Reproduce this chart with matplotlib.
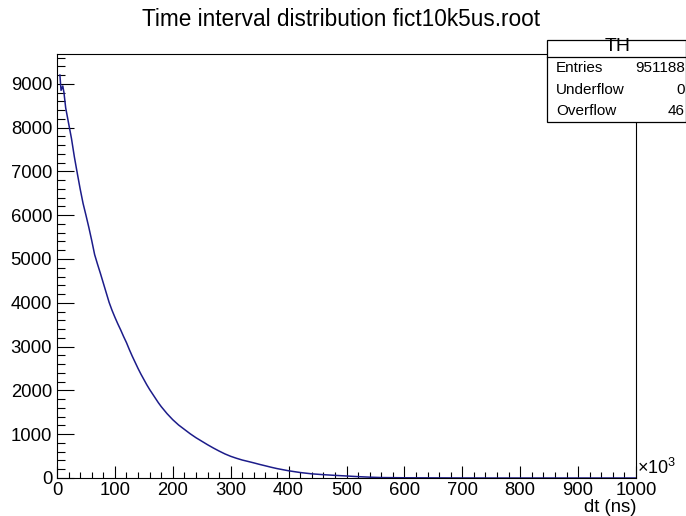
import matplotlib
matplotlib.use("Agg")
import matplotlib.pyplot as plt
from matplotlib.patches import Rectangle
from matplotlib.lines import Line2D
from matplotlib.ticker import MultipleLocator

plt.rcParams["font.family"] = ["Liberation Sans", "DejaVu Sans"]
plt.rcParams["mathtext.fontset"] = "custom"
plt.rcParams["mathtext.rm"] = "Liberation Sans"

# Time interval histogram (dt in units of 10^3 ns, counts per bin)
dt_us = [5, 7, 10, 12, 15, 20, 25, 30, 35, 40, 45, 50, 55, 60, 65, 70, 75, 80, 85, 90,
         95, 100, 105, 110, 115, 120, 125, 130, 135, 140, 145, 150, 155, 160, 165, 170,
         175, 180, 185, 190, 195, 200, 210, 220, 230, 240, 250, 260, 270, 280, 290, 300,
         310, 320, 330, 340, 350, 360, 370, 380, 390, 400, 420, 440, 460, 480, 500, 520,
         540, 560, 600, 650, 700, 750, 1000]
counts = [9200, 8850, 8950, 8800, 8450, 8100, 7750, 7330, 6960, 6600, 6270, 6000, 5720,
          5420, 5100, 4880, 4670, 4450, 4230, 4010, 3830, 3670, 3520, 3380, 3230, 3090,
          2930, 2780, 2640, 2500, 2370, 2250, 2130, 2020, 1920, 1820, 1720, 1630, 1550,
          1470, 1400, 1330, 1210, 1110, 1010, 920, 840, 760, 685, 615, 550, 495, 450, 410,
          378, 345, 310, 278, 245, 215, 190, 165, 125, 95, 76, 60, 46, 31, 19, 10, 5, 3, 1,
          0, 0]

title = "Time interval distribution fict10k5us.root"
stats_name = "TH"
stats_rows = [("Entries", "951188"), ("Underflow", "0"), ("Overflow", "46")]

W, H = 686, 516
fig = plt.figure(figsize=(W / 100, H / 100), dpi=100)


def fx(px):
    return px / W


def fy(py):
    return 1 - py / H


ax = fig.add_axes([fx(57), fy(478), fx(636) - fx(57), fy(54) - fy(478)])
ax.plot(dt_us, counts, color="#1c1c8a", linewidth=1.1)
ax.set_xlim(0, 1000)
ax.set_ylim(0, 9680)

ax.xaxis.set_major_locator(MultipleLocator(100))
ax.xaxis.set_minor_locator(MultipleLocator(20))
ax.yaxis.set_major_locator(MultipleLocator(1000))
ax.yaxis.set_minor_locator(MultipleLocator(200))
ax.tick_params(axis="x", which="major", direction="in", length=8.6, width=0.8, labelsize=13.3, pad=3)
ax.tick_params(axis="x", which="minor", direction="in", length=4.3, width=0.8)
ax.tick_params(axis="y", which="major", direction="in", length=12.2, width=0.8, labelsize=13.3, pad=3.5)
ax.tick_params(axis="y", which="minor", direction="in", length=5.8, width=0.8)
for sp in ax.spines.values():
    sp.set_linewidth(0.8)

ax.text(1.002, 0.0, r"$\mathregular{\times10^{3}}$", transform=ax.transAxes,
        ha="left", va="bottom", fontsize=13)
fig.text(fx(636), fy(507), "dt (ns)", ha="right", va="center", fontsize=13.3)
fig.text(fx(341), fy(20), title, ha="center", va="center", fontsize=16.3)

# stats box
box_l, box_r, box_t, box_b = 547, 685.5, 40, 122
fig.add_artist(Rectangle((fx(box_l), fy(box_b)), fx(box_r) - fx(box_l), fy(box_t) - fy(box_b),
                         transform=fig.transFigure, facecolor="white", edgecolor="black",
                         linewidth=0.9, zorder=5))
fig.add_artist(Line2D([fx(box_l), fx(box_r)], [fy(56.7), fy(56.7)], transform=fig.transFigure,
                      color="black", linewidth=0.9, zorder=6))
fig.text(fx(618), fy(47), stats_name, ha="center", va="center", fontsize=14, zorder=7)
for i, (name, val) in enumerate(stats_rows):
    y = 68.3 + i * 21.4
    fig.text(fx(556), fy(y), name, ha="left", va="center", fontsize=11, zorder=7)
    fig.text(fx(685), fy(y), val, ha="right", va="center", fontsize=11, zorder=7)

fig.savefig("out.png", dpi=100)
